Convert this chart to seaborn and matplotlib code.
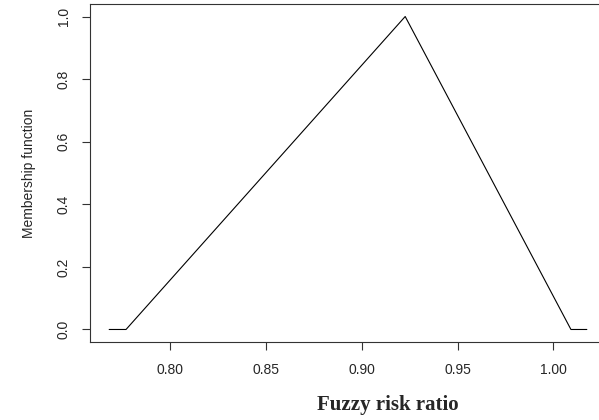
import pandas as pd
import matplotlib
matplotlib.use("Agg")
import matplotlib.pyplot as plt
import seaborn as sns

# pontos da função de pertinência (triangular)
risk_ratio = [0.7681, 0.7769, 0.9226, 1.0091, 1.0174]
membership = [0.0, 0.0, 1.0, 0.0, 0.0]
x_ticks = [0.80, 0.85, 0.90, 0.95, 1.00]
y_ticks = [0.0, 0.2, 0.4, 0.6, 0.8, 1.0]

df = pd.DataFrame({"ratio": risk_ratio, "mu": membership})

sns.set_theme(style="ticks")
plt.rcParams["font.family"] = ["Liberation Sans", "DejaVu Sans"]

fig = plt.figure(figsize=(5.99, 4.2), dpi=100)
ax = fig.add_axes([90 / 599, 78 / 420, 516 / 599, 338 / 420])

sns.lineplot(data=df, x="ratio", y="mu", color="black", linewidth=0.8,
             sort=False, estimator=None, ax=ax)

ax.set_xlim(0.7581, 1.0274)
ax.set_ylim(-0.04, 1.04)
ax.set_xticks(x_ticks)
ax.set_xticklabels([f"{v:.2f}" for v in x_ticks], fontsize=10)
ax.set_yticks(y_ticks)
ax.set_yticklabels([f"{v:.1f}" for v in y_ticks], fontsize=10,
                   rotation=90, va="center")
ax.tick_params(axis="both", length=6, width=0.8, color="#333333")
ax.tick_params(axis="x", pad=9)
ax.tick_params(axis="y", pad=8)
for s in ax.spines.values():
    s.set_visible(True)
    s.set_linewidth(0.8)
    s.set_color("#333333")

ax.set_xlabel("")
ax.set_ylabel("Membership function", fontsize=10, labelpad=15)
fig.text(388 / 599, 1 - 405 / 420, "Fuzzy risk ratio", ha="center", va="center",
         fontsize=15, fontweight="bold", family="Liberation Serif")

fig.savefig("out.png", dpi=100)
